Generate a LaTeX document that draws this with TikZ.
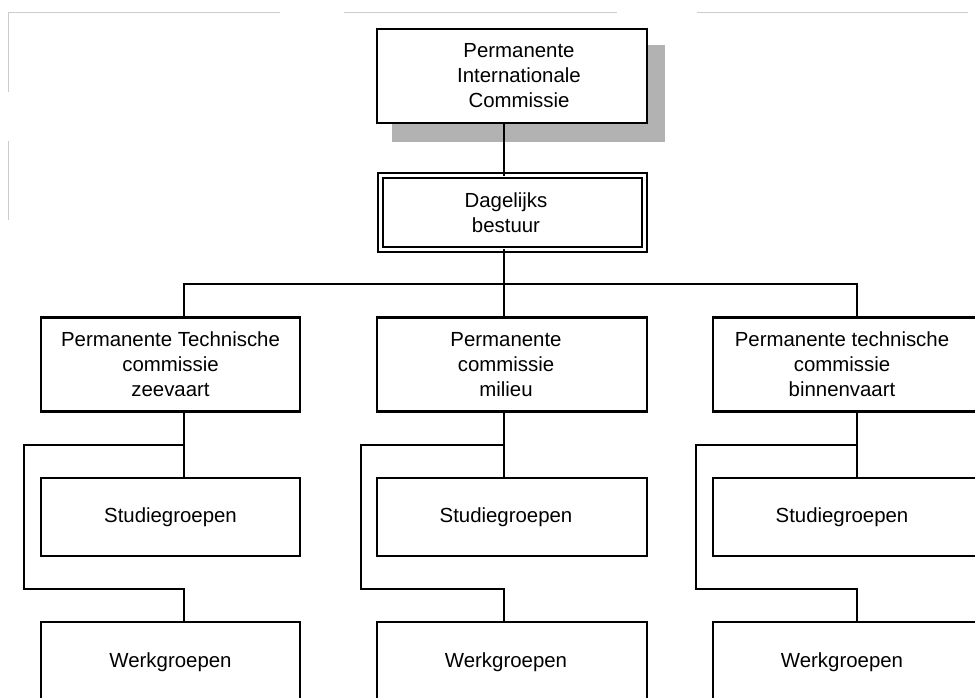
\documentclass[tikz,border=0pt]{standalone}
\usepackage{fontspec}
\setmainfont{Liberation Sans}
\begin{document}
\begin{tikzpicture}[x=1pt,y=-1pt,
  box/.style={draw=black,line width=2.3pt,fill=white,rectangle,inner sep=0pt,
    align=center,font=\fontsize{20.4}{25}\selectfont},
  conn/.style={draw=black,line width=2.3pt,line cap=rect},
  frame/.style={draw=black!20,line width=0.9pt}]
\useasboundingbox (0,0) rectangle (975,697);
\clip (0,0) rectangle (975,697);
% faint page frame
\draw[frame] (8,12) -- (280,12);
\draw[frame] (344,12) -- (617,12);
\draw[frame] (697,12) -- (968,12);
\draw[frame] (8,12) -- (8,92);
\draw[frame] (8,141) -- (8,220);
% shadow and top box
\fill[black!30] (392,45) rectangle (665,142);
\node[box,minimum width=270pt,minimum height=94pt] (top) at (512,76)
  {\hspace*{14pt}Permanente\\\hspace*{14pt}Internationale\\\hspace*{14pt}Commissie};
% daily board (double border)
\node[box,line width=2pt,double=white,double distance=3pt,minimum width=264pt,minimum height=74pt] (dag) at (512,212.5)
  {\hspace*{-12pt}Dagelijks\\\hspace*{-12pt}bestuur};
% committees
\node[box,minimum width=259pt,minimum height=94pt] (c1) at (170.5,364.5)
  {Permanente Technische\\commissie\\zeevaart};
\node[box,minimum width=270pt,minimum height=94pt] (c2) at (512,364.5)
  {\hspace*{-12pt}Permanente\\\hspace*{-12pt}commissie\\\hspace*{-12pt}milieu};
\node[box,minimum width=270pt,minimum height=94pt] (c3) at (848,364.5)
  {\hspace*{-12pt}Permanente technische\\\hspace*{-12pt}commissie\\\hspace*{-12pt}binnenvaart};
% study groups
\node[box,minimum width=259pt,minimum height=78pt] (s1) at (170.5,517) {Studiegroepen};
\node[box,minimum width=270pt,minimum height=78pt] (s2) at (512,517) {\hspace*{-12pt}Studiegroepen};
\node[box,minimum width=270pt,minimum height=78pt] (s3) at (848,517) {\hspace*{-12pt}Studiegroepen};
% working groups
\node[box,minimum width=259pt,minimum height=80pt] (w1) at (170.5,662) {Werkgroepen};
\node[box,minimum width=270pt,minimum height=80pt] (w2) at (512,662) {\hspace*{-12pt}Werkgroepen};
\node[box,minimum width=270pt,minimum height=80pt] (w3) at (848,662) {\hspace*{-12pt}Werkgroepen};
% bus coordinates
\coordinate (busL) at (184,284);
\coordinate (busM) at (504,284);
\coordinate (busR) at (857,284);
% connectors
\draw[conn] (top.south -| busM) -- (dag.north -| busM);
\draw[conn] (dag.south -| busM) -- (busM);
\draw[conn] (busL) -- (busR);
\draw[conn] (busL) -- (c1.north -| busL);
\draw[conn] (busM) -- (c2.north -| busM);
\draw[conn] (busR) -- (c3.north -| busR);
% columns
\foreach \c/\x/\l in {1/184/24, 2/504/361, 3/857/696}{
  \coordinate (a\c) at (\x,445);
  \coordinate (b\c) at (\l,445);
  \coordinate (d\c) at (\l,589);
  \coordinate (e\c) at (\x,589);
  \draw[conn] (c\c.south -| a\c) -- (s\c.north -| a\c);
  \draw[conn] (a\c) -- (b\c) -- (d\c) -- (e\c) -- (w\c.north -| e\c);
}
\end{tikzpicture}
\end{document}
